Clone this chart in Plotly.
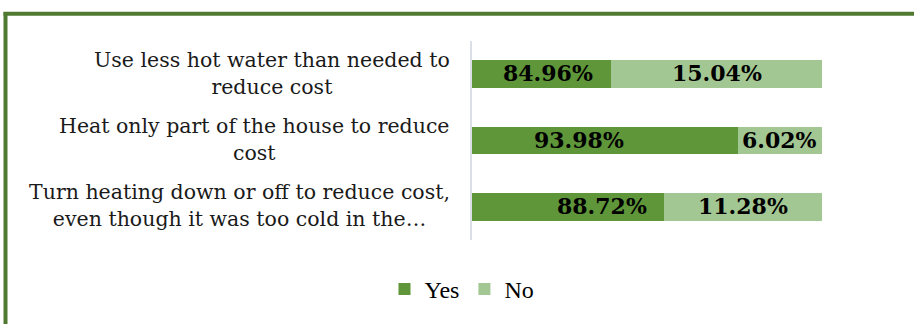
import plotly.graph_objects as go

# Survey responses (percent of respondents)
categories = [
    "Use less hot water than needed to<br>reduce cost",
    "Heat only part of the house to reduce<br>cost",
    "Turn heating down or off to reduce cost,<br>even though it was too cold in the…",
]
yes_pct = [84.96, 93.98, 88.72]
no_pct = [15.04, 6.02, 11.28]
series_names = ["Yes", "No"]

# Styling
YES_COLOR = "#5E9639"
NO_COLOR = "#A2C792"
FRAME_COLOR = "#507A31"
AXIS_MIN, AXIS_MAX = 75, 100
W, H = 914, 324
M_L, M_R, M_T, M_B = 472, 92, 41, 82
yes_label_shift = [6, -26, 34]  # pixel nudges for the "Yes" value labels

plot_w = W - M_L - M_R
plot_h = H - M_T - M_B


def px_to_paper_x(px):
    return (px - M_L) / plot_w


def px_to_paper_y(py):
    return (H - M_B - py) / plot_h


ids = list(range(len(categories)))

fig = go.Figure()
fig.add_trace(go.Bar(
    y=ids, x=yes_pct, orientation="h", name=series_names[0],
    marker=dict(color=YES_COLOR, line=dict(width=0)), hoverinfo="skip",
))
fig.add_trace(go.Bar(
    y=ids, x=no_pct, orientation="h", name=series_names[1],
    marker=dict(color=NO_COLOR, line=dict(width=0)), hoverinfo="skip",
))

annotations = []
# category labels: block right-aligned to the axis, lines centred within it
for i, cat in enumerate(categories):
    annotations.append(dict(
        x=px_to_paper_x(452), xref="paper", xanchor="right",
        y=i, yref="y", yanchor="middle", yshift=1,
        text=cat, align="center", showarrow=False,
        font=dict(family="DejaVu Serif", size=20.5, color="#1a1a1a"),
    ))

# value labels centred on the visible part of each segment
label_font = dict(family="DejaVu Serif", size=22, color="#000000", weight="bold")
for i, (y_val, n_val) in enumerate(zip(yes_pct, no_pct)):
    yes_mid = (max(AXIS_MIN, 0) + y_val) / 2
    no_mid = (y_val + min(y_val + n_val, AXIS_MAX)) / 2
    annotations.append(dict(
        x=yes_mid, xref="x", y=i, yref="y", text=f"<b>{y_val:.2f}%</b>",
        showarrow=False, font=label_font, xshift=yes_label_shift[i], yshift=1,
    ))
    annotations.append(dict(
        x=no_mid, xref="x", y=i, yref="y", text=f"<b>{n_val:.2f}%</b>",
        showarrow=False, font=label_font, yshift=1,
    ))

shapes = [
    # green frame around the chart (left and top edges)
    dict(type="line", xref="paper", yref="paper",
         x0=px_to_paper_x(5.5), x1=px_to_paper_x(5.5),
         y0=px_to_paper_y(12), y1=px_to_paper_y(H + 5),
         line=dict(color=FRAME_COLOR, width=4)),
    dict(type="line", xref="paper", yref="paper",
         x0=px_to_paper_x(3.5), x1=px_to_paper_x(W + 5),
         y0=px_to_paper_y(13.5), y1=px_to_paper_y(13.5),
         line=dict(color=FRAME_COLOR, width=4)),
]

fig.update_layout(
    width=W, height=H,
    margin=dict(l=M_L, r=M_R, t=M_T, b=M_B, pad=0),
    barmode="stack", bargap=0.58,
    paper_bgcolor="white", plot_bgcolor="white",
    showlegend=True,
    legend=dict(
        orientation="h", x=px_to_paper_x(462), xanchor="center",
        y=px_to_paper_y(292), yanchor="middle",
        font=dict(family="Liberation Serif", size=24, color="#000000"),
        itemwidth=30, traceorder="normal", bgcolor="rgba(0,0,0,0)",
    ),
    xaxis=dict(range=[AXIS_MIN, AXIS_MAX], visible=False, fixedrange=True),
    yaxis=dict(
        range=[len(categories) - 0.5, -0.5], showticklabels=False,
        showgrid=False, zeroline=False, ticks="",
        showline=True, linecolor="#DCE0E6", linewidth=1.5,
    ),
    annotations=annotations, shapes=shapes,
)

fig.write_html("out.html")
